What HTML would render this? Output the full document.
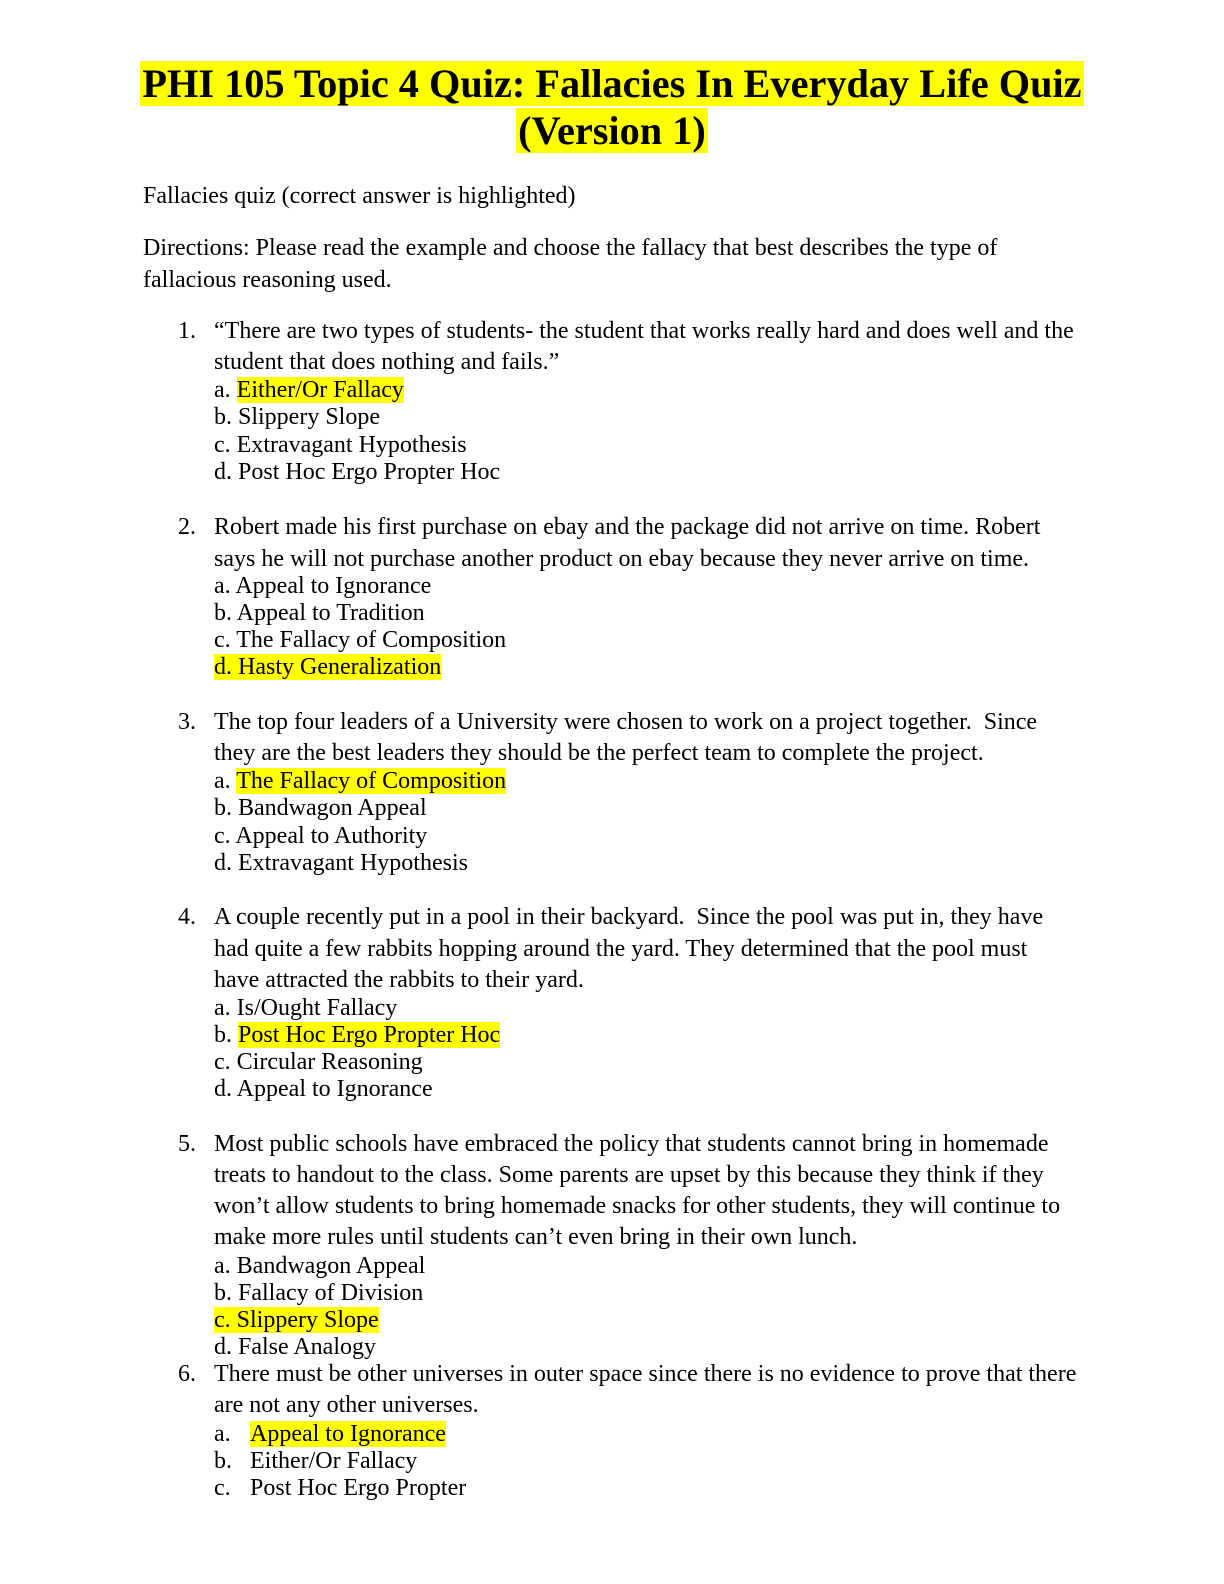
<!DOCTYPE html>
<html><head><meta charset="utf-8">
<style>
body{margin:0;background:#fff;}
.p{position:relative;width:1224px;height:1584px;font-family:"Liberation Serif",serif;color:#000;}
.l{position:absolute;font-size:24px;line-height:26px;white-space:nowrap;margin-top:4px;margin-left:2px;}
.h{background:#ffff00;}
.t{position:absolute;left:0;width:1224px;text-align:center;font-weight:bold;font-size:40.3px;line-height:48px;white-space:nowrap;}
.t span{background:#ffff00;padding:0 2px;}
</style></head><body><div class="p">
<div class="t" style="top:60px"><span>PHI 105 Topic 4 Quiz: Fallacies In Everyday Life Quiz </span></div>
<div class="t" style="top:107px"><span>(Version 1)</span></div>

<div class="l" style="left:141px;top:179px">Fallacies quiz (correct answer is highlighted)</div>
<div class="l" style="left:141px;top:231px">Directions: Please read the example and choose the fallacy that best describes the type of</div>
<div class="l" style="left:141px;top:263px">fallacious reasoning used.</div>

<div class="l" style="left:176px;top:314px">1.</div>
<div class="l" style="left:212px;top:314px">“There are two types of students- the student that works really hard and does well and the</div>
<div class="l" style="left:212px;top:345px">student that does nothing and fails.”</div>
<div class="l" style="left:212px;top:373px">a. <span class="h">Either/Or Fallacy</span></div>
<div class="l" style="left:212px;top:400px">b. Slippery Slope</div>
<div class="l" style="left:212px;top:428px">c. Extravagant Hypothesis</div>
<div class="l" style="left:212px;top:455px">d. Post Hoc Ergo Propter Hoc</div>

<div class="l" style="left:176px;top:510px">2.</div>
<div class="l" style="left:212px;top:510px">Robert made his first purchase on ebay and the package did not arrive on time. Robert</div>
<div class="l" style="left:212px;top:542px">says he will not purchase another product on ebay because they never arrive on time.</div>
<div class="l" style="left:212px;top:569px">a. Appeal to Ignorance</div>
<div class="l" style="left:212px;top:596px">b. Appeal to Tradition</div>
<div class="l" style="left:212px;top:623px">c. The Fallacy of Composition</div>
<div class="l" style="left:212px;top:650px"><span class="h">d. Hasty Generalization</span></div>

<div class="l" style="left:176px;top:705px">3.</div>
<div class="l" style="left:212px;top:705px">The top four leaders of a University were chosen to work on a project together.&nbsp; Since</div>
<div class="l" style="left:212px;top:736px">they are the best leaders they should be the perfect team to complete the project.</div>
<div class="l" style="left:212px;top:764px">a. <span class="h">The Fallacy of Composition</span></div>
<div class="l" style="left:212px;top:791px">b. Bandwagon Appeal</div>
<div class="l" style="left:212px;top:819px">c. Appeal to Authority</div>
<div class="l" style="left:212px;top:846px">d. Extravagant Hypothesis</div>

<div class="l" style="left:176px;top:900px">4.</div>
<div class="l" style="left:212px;top:900px">A couple recently put in a pool in their backyard.&nbsp; Since the pool was put in, they have</div>
<div class="l" style="left:212px;top:932px">had quite a few rabbits hopping around the yard. They determined that the pool must</div>
<div class="l" style="left:212px;top:963px">have attracted the rabbits to their yard.</div>
<div class="l" style="left:212px;top:991px">a. Is/Ought Fallacy</div>
<div class="l" style="left:212px;top:1018px">b. <span class="h">Post Hoc Ergo Propter Hoc</span></div>
<div class="l" style="left:212px;top:1045px">c. Circular Reasoning</div>
<div class="l" style="left:212px;top:1072px">d. Appeal to Ignorance</div>

<div class="l" style="left:176px;top:1127px">5.</div>
<div class="l" style="left:212px;top:1127px">Most public schools have embraced the policy that students cannot bring in homemade</div>
<div class="l" style="left:212px;top:1158px">treats to handout to the class. Some parents are upset by this because they think if they</div>
<div class="l" style="left:212px;top:1189px">won’t allow students to bring homemade snacks for other students, they will continue to</div>
<div class="l" style="left:212px;top:1220px">make more rules until students can’t even bring in their own lunch.</div>
<div class="l" style="left:212px;top:1249px">a. Bandwagon Appeal</div>
<div class="l" style="left:212px;top:1276px">b. Fallacy of Division</div>
<div class="l" style="left:212px;top:1303px"><span class="h">c. Slippery Slope</span></div>
<div class="l" style="left:212px;top:1330px">d. False Analogy</div>

<div class="l" style="left:176px;top:1357px">6.</div>
<div class="l" style="left:212px;top:1357px">There must be other universes in outer space since there is no evidence to prove that there</div>
<div class="l" style="left:212px;top:1388px">are not any other universes.</div>
<div class="l" style="left:212px;top:1417px">a.</div><div class="l" style="left:248px;top:1417px"><span class="h">Appeal to Ignorance</span></div>
<div class="l" style="left:212px;top:1444px">b.</div><div class="l" style="left:248px;top:1444px">Either/Or Fallacy</div>
<div class="l" style="left:212px;top:1471px">c.</div><div class="l" style="left:248px;top:1471px">Post Hoc Ergo Propter</div>
</div></body></html>
